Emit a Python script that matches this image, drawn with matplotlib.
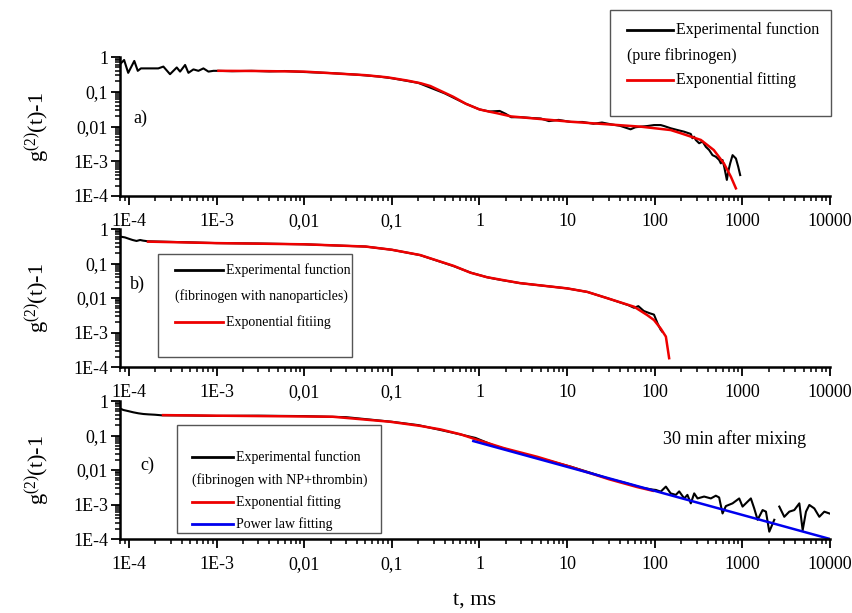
import numpy as np
import matplotlib
matplotlib.use('Agg')
import matplotlib.pyplot as plt
from matplotlib.patches import Rectangle
from matplotlib.ticker import LogLocator, NullFormatter

plt.rcParams['font.family'] = ['Liberation Serif', 'DejaVu Serif']
plt.rcParams['mathtext.fontset'] = 'custom'
plt.rcParams['mathtext.rm'] = 'Liberation Serif'
plt.rcParams['mathtext.it'] = 'Liberation Serif:italic'

# ---- a) pure fibrinogen ----
t_exp_a = [8.1e-5, 8.8e-5, 9.8e-5, 1.15e-4, 1.26e-4, 1.37e-4, 1.66e-4, 2.16e-4, 2.47e-4, 2.94e-4,
           3.51e-4, 3.83e-4, 4.37e-4, 4.77e-4, 5.44e-4, 6.2e-4, 7.07e-4, 8.07e-4, 9.2e-4, 1.05e-3,
           1.5e-3, 2.5e-3, 4e-3, 6e-3, 0.01, 0.02, 0.04, 0.07, 0.1, 0.2, 0.4, 0.7, 1.0, 1.3, 1.7,
           2.0, 2.3, 3, 4, 5, 6.2, 8, 11, 15, 20, 25, 32, 40, 53, 60, 69, 82, 98, 117, 128, 152,
           182, 216, 258, 269, 281, 294, 321, 351, 383, 418, 456, 498, 543, 568, 593, 620, 665,
           689, 726, 773, 844, 896, 944]
g_exp_a = [0.66, 0.82, 0.35, 0.77, 0.40, 0.47, 0.47, 0.47, 0.53, 0.32,
           0.50, 0.38, 0.59, 0.35, 0.44, 0.40, 0.47, 0.38, 0.40, 0.40,
           0.39, 0.40, 0.385, 0.395, 0.37, 0.345, 0.31, 0.275, 0.245, 0.18, 0.09, 0.045, 0.031,
           0.027, 0.028, 0.023, 0.0185, 0.0185, 0.0175, 0.017, 0.0143, 0.0155, 0.0135, 0.0135,
           0.012, 0.013, 0.0115, 0.0105, 0.0083, 0.0095, 0.0099, 0.0103, 0.011, 0.011, 0.0103,
           0.0089, 0.0079, 0.0071, 0.0061, 0.0046, 0.0051, 0.0041, 0.0033, 0.0037, 0.0026,
           0.0021, 0.0015, 0.00135, 0.00109, 8.7e-4, 0.00109, 7e-4, 2.9e-4, 5e-4, 8.7e-4,
           0.0015, 0.0012, 7e-4, 4e-4]
t_fit_a = [1.05e-3, 3e-3, 0.01, 0.021, 0.05, 0.089, 0.15, 0.215, 0.275, 0.5, 0.7, 1.0, 1.3, 1.6,
           2.3, 11, 69, 152, 198, 336, 472, 615, 739, 844]
g_fit_a = [0.40, 0.395, 0.38, 0.34, 0.30, 0.26, 0.21, 0.175, 0.146, 0.072, 0.045, 0.031, 0.0267,
           0.024, 0.0195, 0.0137, 0.0099, 0.0079, 0.0064, 0.0041, 0.0021, 8.7e-4, 3.6e-4, 1.66e-4]

# ---- b) fibrinogen with nanoparticles ----
t_exp_b = [8e-5, 9e-5, 1.0e-4, 1.1e-4, 1.22e-4, 1.34e-4, 1.45e-4, 1.65e-4, 5e-4, 1e-3, 3e-3,
           0.01, 0.05, 0.1, 0.21, 0.5, 0.8, 1.22, 1.5, 1.8, 2.9, 10, 17, 29, 50, 58, 65, 75, 88,
           98, 108, 117, 122]
g_exp_b = [0.60, 0.57, 0.52, 0.48, 0.45, 0.48, 0.46, 0.44, 0.41, 0.39, 0.38,
           0.36, 0.31, 0.25, 0.175, 0.085, 0.054, 0.04, 0.036, 0.033, 0.027, 0.019, 0.015,
           0.0098, 0.0062, 0.0052, 0.0058, 0.0042, 0.0036, 0.0033, 0.0018, 0.0012, 0.00105]
t_fit_b = [1.65e-4, 1e-3, 0.01, 0.05, 0.1, 0.21, 0.51, 0.79, 1.22, 2.9, 10, 17, 29, 58, 82, 98,
           117, 134, 146]
g_fit_b = [0.43, 0.39, 0.36, 0.31, 0.25, 0.176, 0.085, 0.054, 0.04, 0.027, 0.019, 0.015, 0.0098,
           0.0056, 0.0032, 0.0023, 0.0013, 7.6e-4, 1.8e-4]

# ---- c) fibrinogen with NP + thrombin ----
t_exp_c = [7.9e-5, 8.6e-5, 9.8e-5, 1.12e-4, 1.28e-4, 1.46e-4, 1.66e-4, 1.98e-4, 2.36e-4, 5e-4,
           1e-3, 3e-3, 0.01, 0.03, 0.1, 0.2, 0.5, 0.9, 1.5, 3, 6, 11, 20, 30, 45, 70, 95,
           103, 117, 134, 152, 174, 190, 217, 236, 258, 282, 308, 366, 437, 498, 543, 594, 648,
           773, 920, 1005, 1096, 1250, 1365, 1492, 1702, 1858, 2028, 2312, 2470,
           2638, 3008, 3430, 3914, 4467, 4875, 5320, 5808, 6622, 7551, 8610, 9840]
g_exp_c = [0.61, 0.55, 0.51, 0.47, 0.44, 0.42, 0.41, 0.40, 0.385, 0.38,
           0.37, 0.375, 0.365, 0.34, 0.25, 0.2, 0.12, 0.085, 0.05, 0.03, 0.019, 0.0125,
           0.0078, 0.0056, 0.0043, 0.0031, 0.0027,
           0.00264, 0.00236, 0.0033, 0.0021, 0.0019, 0.0024, 0.0015, 0.0019, 0.00108, 0.0021,
           0.0015, 0.0017, 0.0015, 0.0018, 0.0016, 0.00055, 0.0009, 0.00108, 0.0015, 0.00087,
           0.00108, 0.0015, 0.00077, 0.00036, 0.00069, 0.00062, 0.000163, 0.00036, np.nan,
           0.00087, 0.00044, 0.00062, 0.00069, 0.00108, 0.00018, 0.00062, 0.00097, 0.00077,
           0.00044, 0.00062, 0.00055]
t_fit_c = [2.45e-4, 1e-3, 0.021, 0.0955, 0.21, 0.36, 0.61, 0.9, 1.9, 4.6, 11, 30, 63, 95]
g_fit_c = [0.39, 0.375, 0.35, 0.25, 0.19, 0.15, 0.108, 0.078, 0.043, 0.024, 0.0123, 0.0054,
           0.0032, 0.0025]
t_pow_c = [0.85, 10000]
g_pow_c = [0.069, 1e-4]

x_ticks = [1e-4, 1e-3, 1e-2, 1e-1, 1, 10, 100, 1000, 10000]
x_tick_labels = ['1E-4', '1E-3', '0,01', '0,1', '1', '10', '100', '1000', '10000']
y_ticks = [1e-4, 1e-3, 1e-2, 1e-1, 1]
y_tick_labels = ['1E-4', '1E-3', '0,01', '0,1', '1']

W, H = 853, 613
fig = plt.figure(figsize=(W / 100, H / 100), dpi=100)


def add_panel(top, bottom):
    ax = fig.add_axes([120 / W, 1 - bottom / H, 710 / W, (bottom - top) / H])
    ax.set_xscale('log')
    ax.set_yscale('log')
    ax.set_xlim(7.9e-5, 1e4)
    ax.set_ylim(1e-4, 1)
    ax.spines['top'].set_visible(False)
    ax.spines['right'].set_visible(False)
    ax.spines['left'].set_linewidth(1.8)
    ax.spines['bottom'].set_linewidth(1.8)
    ax.set_xticks(x_ticks, x_tick_labels)
    ax.set_yticks(y_ticks, y_tick_labels)
    ax.xaxis.set_minor_locator(LogLocator(base=10, subs=np.arange(2, 10), numticks=30))
    ax.yaxis.set_minor_locator(LogLocator(base=10, subs=np.arange(2, 10), numticks=30))
    ax.xaxis.set_minor_formatter(NullFormatter())
    ax.yaxis.set_minor_formatter(NullFormatter())
    ax.tick_params(which='major', length=6.5, width=1.3, direction='out', labelsize=13)
    ax.tick_params(which='minor', length=3.5, width=1.1, direction='out')
    ax.tick_params(axis='x', which='major', pad=5.5)
    ax.tick_params(axis='y', which='major', pad=2)
    ax.set_ylabel(r'$\mathregular{g^{(2)}(t)}$-1', fontsize=16)
    ax.yaxis.set_label_coords(-0.095, 0.5)
    ax.patch.set_alpha(0)
    return ax


ax_a = add_panel(57, 196)
ax_a.plot(t_exp_a, g_exp_a, color='black', lw=1.5)
ax_a.plot(t_fit_a, g_fit_a, color='#ee0000', lw=1.8)

ax_b = add_panel(229, 367)
ax_b.plot(t_exp_b, g_exp_b, color='black', lw=1.5)
ax_b.plot(t_fit_b, g_fit_b, color='#ee0000', lw=1.8)

ax_c = add_panel(401, 539)
ax_c.plot(t_exp_c, g_exp_c, color='black', lw=1.5)
ax_c.plot(t_fit_c, g_fit_c, color='#ee0000', lw=1.8)
ax_c.plot(t_pow_c, g_pow_c, color='#0000ee', lw=1.8)
ax_c.set_xlabel('t, ms', fontsize=16)
ax_c.xaxis.set_label_coords(0.5, -0.37)

# overlay in pixel units for legends and annotations
ov = fig.add_axes([0, 0, 1, 1])
ov.set_xlim(0, W)
ov.set_ylim(H, 0)
ov.axis('off')


def legend_box(x0, y0, x1, y1, rows, hx0, hx1, fs):
    ov.add_patch(Rectangle((x0, y0), x1 - x0, y1 - y0, fill=False, ec='#555555', lw=1))
    for color, text, y in rows:
        if color is None:
            ov.text(hx0, y, text, fontsize=fs, va='center', ha='left')
        else:
            ov.plot([hx0, hx1], [y, y], color=color, lw=2)
            ov.text(hx1 + 3, y, text, fontsize=fs, va='center', ha='left')


legend_box(610, 10, 831, 116,
           [('black', 'Experimental function', 30),
            (None, '(pure fibrinogen)', 56),
            ('#ee0000', 'Exponential fitting', 80)], 627, 673, 11.5)
legend_box(158, 254, 352, 357,
           [('black', 'Experimental function', 270),
            (None, '(fibrinogen with nanoparticles)', 296),
            ('#ee0000', 'Exponential fitiing', 322)], 175, 223, 10)
legend_box(177, 425, 381, 533,
           [('black', 'Experimental function', 457),
            (None, '(fibrinogen with NP+thrombin)', 480),
            ('#ee0000', 'Exponential fitting', 502),
            ('#0000ee', 'Power law fitting', 524)], 192, 233, 10)

ov.text(133, 118, 'a)', fontsize=13, va='center')
ov.text(130, 284, 'b)', fontsize=13, va='center')
ov.text(140, 465, 'c)', fontsize=13, va='center')
ov.text(663, 439, '30 min after mixing', fontsize=13, va='center')

fig.savefig('out.png', dpi=100)
